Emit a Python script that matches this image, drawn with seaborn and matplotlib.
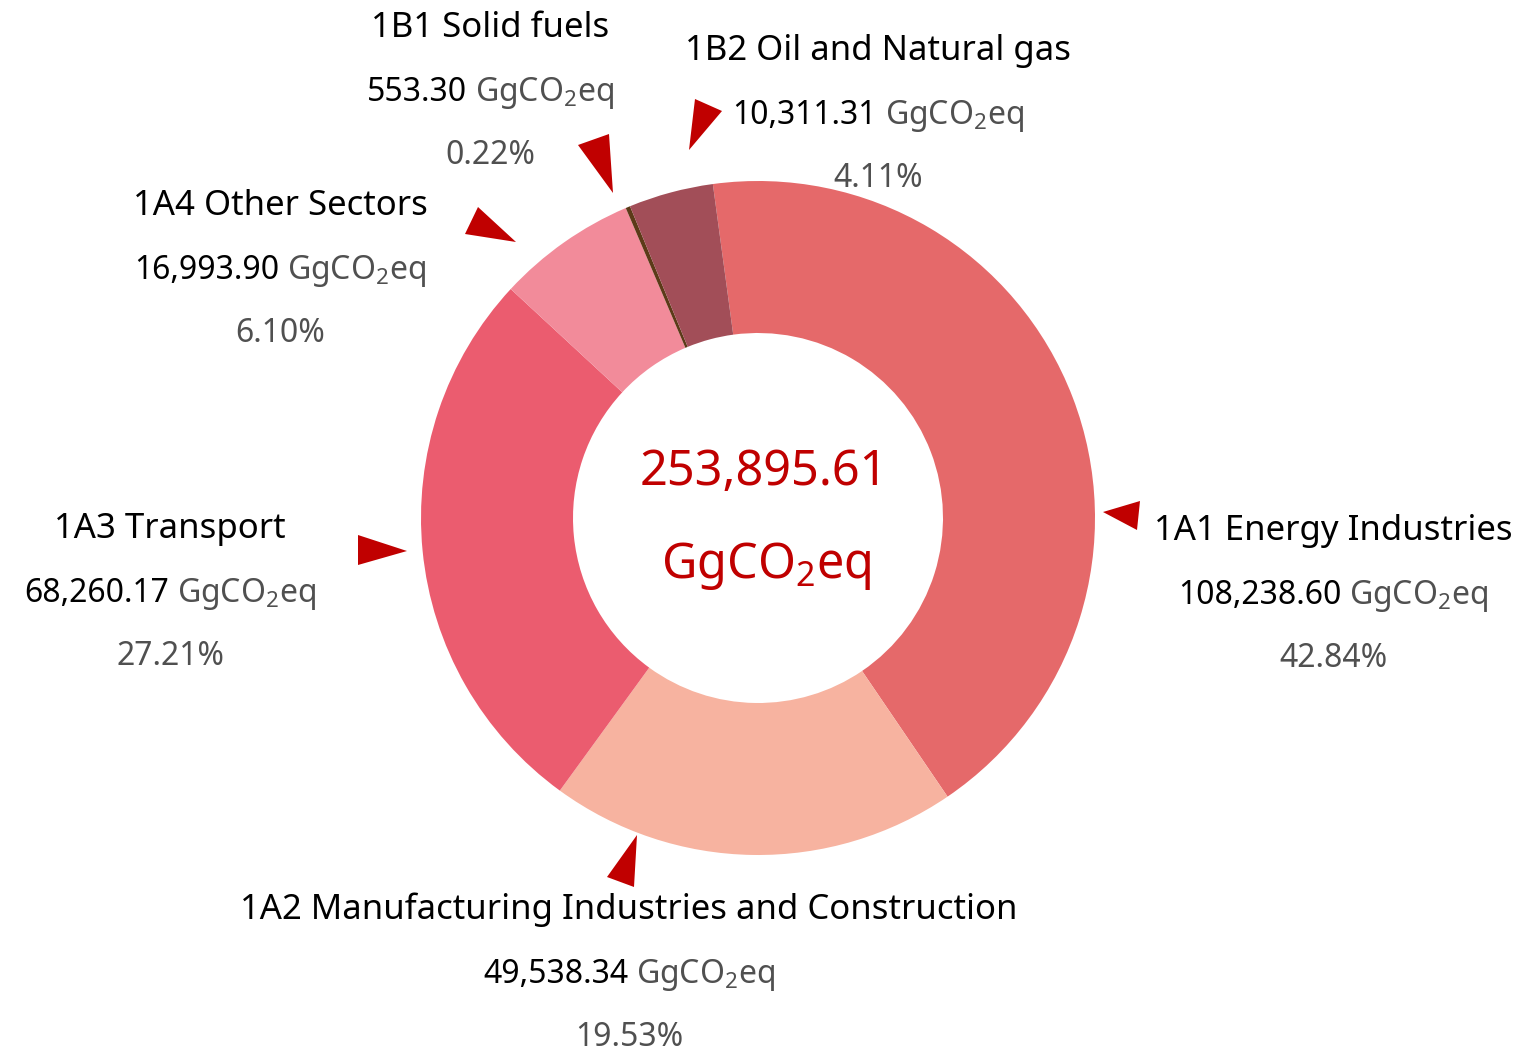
import numpy as np
import pandas as pd
import seaborn as sns
import matplotlib.pyplot as plt
from matplotlib.patches import Polygon

# data
categories = ["1A1 Energy Industries",
              "1A2 Manufacturing Industries and Construction",
              "1A3 Transport",
              "1A4 Other Sectors",
              "1B1 Solid fuels",
              "1B2 Oil and Natural gas"]
emissions = [108238.60, 49538.34, 68260.17, 16993.90, 553.30, 10311.31]
shares = [42.84, 19.53, 27.21, 6.10, 0.22, 4.11]
total = 253895.61
unit = "GgCO$_2$eq"

colors = ["#E5696A", "#F7B3A0", "#EB5C6F", "#F28B9A", "#5C3A18", "#A24E58"]

# layout, in pixels from the top-left corner
W, H = 1524, 1052
label_xy = [(1333, 528), (629, 907), (170, 526), (280, 203), (490, 25), (878, 48)]
arrows = [[(1103, 512), (1140, 501), (1137, 530)],
          [(637, 835), (607, 877), (634, 887)],
          [(358, 535), (358, 565), (407, 551)],
          [(478, 207), (465, 234), (516, 242)],
          [(578, 145), (609, 134), (613, 193)],
          [(695, 99), (722, 111), (689, 150)]]

sns.set_theme(style="white")
plt.rcParams["font.family"] = ["Noto Sans", "DejaVu Sans"]
plt.rcParams["mathtext.fontset"] = "custom"
plt.rcParams["mathtext.rm"] = "Noto Sans"
plt.rcParams["mathtext.it"] = "Noto Sans:italic"
plt.rcParams["mathtext.bf"] = "Noto Sans:bold"

fig = plt.figure(figsize=(W / 100, H / 100), dpi=100)
ax = fig.add_axes([0, 0, 1, 1])

df = pd.DataFrame({"category": categories, "emission": emissions, "share": shares})

ax.pie(df["emission"], colors=colors, center=(758, H - 518), radius=337,
       startangle=97.7, counterclock=False,
       wedgeprops=dict(width=152, edgecolor="none"))
ax.set_xlim(0, W)
ax.set_ylim(0, H)
ax.set_aspect("equal")
ax.axis("off")

renderer = fig.canvas.get_renderer()
dark_grey = "#505050"


def two_tone(x, y, left, right, size, c1, c2):
    t1 = ax.text(0, 0, left, fontsize=size, color=c1, va="baseline", ha="left")
    t2 = ax.text(0, 0, right, fontsize=size, color=c2, va="baseline", ha="left")
    w1 = t1.get_window_extent(renderer).width
    w2 = t2.get_window_extent(renderer).width
    gap = size * 0.35
    x0 = x - (w1 + gap + w2) / 2
    t1.set_position((x0, y))
    t2.set_position((x0 + w1 + gap, y))


for i, row in df.iterrows():
    x, y = label_xy[i]
    ax.text(x, H - y - 12, row["category"], fontsize=25, color="black",
            fontweight="medium", ha="center", va="baseline")
    two_tone(x, H - y - 76, f"{row['emission']:,.2f}", unit, 23, "black", dark_grey)
    ax.text(x, H - y - 139, f"{row['share']:.2f}%", fontsize=23, color=dark_grey,
            ha="center", va="baseline")
    tri = [(px, H - py) for px, py in arrows[i]]
    ax.add_patch(Polygon(tri, closed=True, color="#C00000", lw=0))

ax.text(764, H - 485, f"{total:,.2f}", fontsize=35, fontweight="bold",
        color="#C00000", ha="center", va="baseline")
ax.text(766, H - 578, unit, fontsize=35, color="#C00000",
        ha="center", va="baseline")

fig.savefig("out.png", dpi=100)
